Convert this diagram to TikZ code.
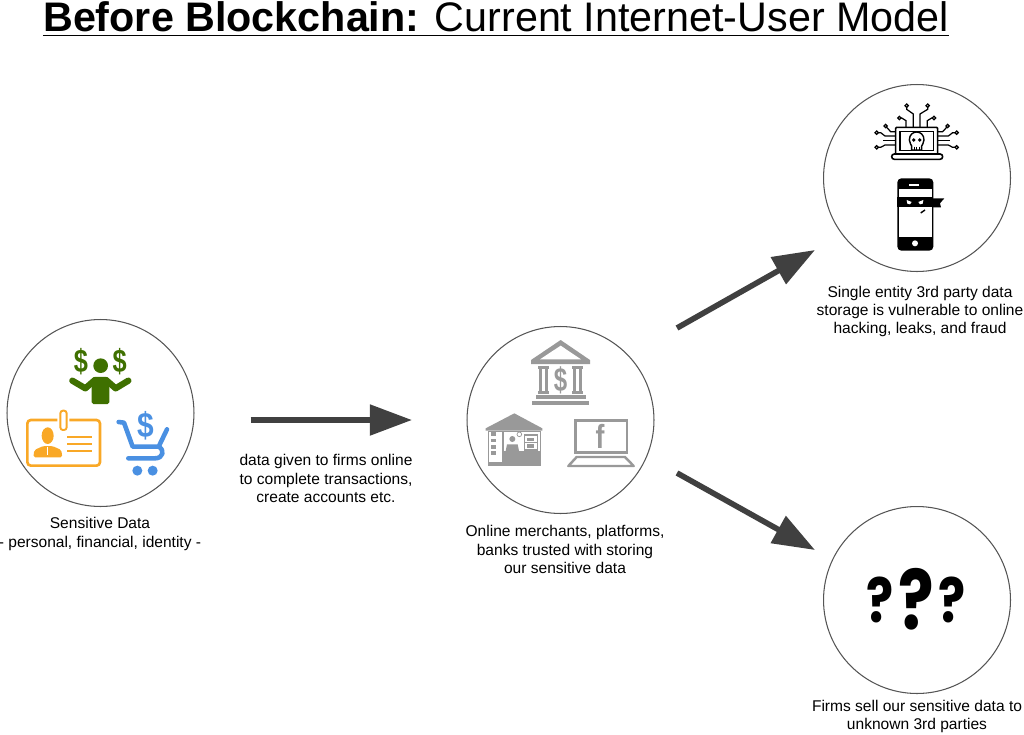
\documentclass[tikz,border=0pt]{standalone}
\usepackage{fontspec}
\setmainfont{Liberation Sans}
\newfontfamily\qfont{Poppins}
\usetikzlibrary{arrows.meta}
\definecolor{arrowgray}{HTML}{404040}
\definecolor{ringgray}{HTML}{555555}
\definecolor{icongray}{HTML}{999999}
\definecolor{mangreen}{HTML}{3F7000}
\definecolor{cardorange}{HTML}{F9A826}
\definecolor{cartblue}{HTML}{4A90E2}
\tikzset{
  ring/.style={circle,draw=ringgray,line width=0.6pt,minimum size=3.74cm,inner sep=0pt},
  caption/.style={align=center,font=\fontsize{8.85}{10.5}\selectfont,inner sep=0pt},
  flow/.style={draw=arrowgray,line width=3.2pt,-{Triangle[length=24pt,width=17pt]}},
  zoomed/.style={x=0.006667cm,y=-0.006667cm},
  question/.style={inner sep=0pt,text=black},
}
\begin{document}
\begin{tikzpicture}[x=0.02cm,y=-0.02cm]
\useasboundingbox (0,0) rectangle (1024,734);
% title
\node[inner sep=0pt,font=\fontsize{23.5}{26}\selectfont] (title) at (496,16.5) {\textbf{Before Blockchain:} Current Internet-User Model};
\draw[line width=1pt] (title.west |- 0,35.5) -- (title.east |- 0,35.5);
% rings
\node[ring] (sensitive) at (100.5,413) {};
\node[ring] (merchants) at (560.5,420) {};
\node[ring] (hacked) at (917,178) {};
\node[ring] (unknown) at (917,600) {};
% captions
\node[caption] (sensitivetext) at (100,534) {Sensitive Data\\- personal, financial, identity -};
\node[caption] (giventext) at (326,478.5) {data given to firms online\\to complete transactions,\\create accounts etc.};
\node[caption] (merchanttext) at (565,549.5) {Online merchants, platforms,\\banks trusted with storing\\our sensitive data};
\node[caption] (hackedtext) at (920,311.5) {Single entity 3rd party data\\storage is vulnerable to online\\hacking, leaks, and fraud};
\node[caption] (unknowntext) at (917,716.5) {Firms sell our sensitive data to\\unknown 3rd parties};
% arrows
\coordinate (hackfrom) at (677,328);
\coordinate (hackto) at (815,250);
\coordinate (sellfrom) at (677,473);
\coordinate (sellto) at (815,550);
\draw[flow,shorten <=32pt,shorten >=31pt] (sensitive.east |- merchants.west) -- (merchants.west);
\draw[flow] (hackfrom) -- (hackto);
\draw[flow] (sellfrom) -- (sellto);
% man with dollars
\begin{scope}[shift={(0,320)},zoomed]
\fill[mangreen] (302,137) circle (22);
\draw[mangreen,line width=3.6pt,line cap=round,line join=round] (217,182) -- (256,205) -- (285,180) -- (318,180) -- (347,205) -- (385,182);
\fill[mangreen,rounded corners=1pt] (275,172) rectangle (328,252);
\node[text=mangreen,inner sep=0pt,font=\bfseries\fontsize{18.5}{18.5}\selectfont] (dollarleft) at (243,125) {\scalebox{0.78}[1]{\$}};
\node[text=mangreen,inner sep=0pt,font=\bfseries\fontsize{18.5}{18.5}\selectfont] (dollarright) at (359,125) {\scalebox{0.78}[1]{\$}};
% id card
\draw[cardorange,line width=1.5pt,rounded corners=2pt] (172,300) -- (82,300) -- (82,437) -- (300,437) -- (300,300) -- (208,300);
\draw[cardorange,line width=1.1pt,rounded corners=1.5pt] (181,272) rectangle (200,330);
\fill[cardorange] (143,347) ellipse (18 and 25);
\fill[cardorange,rounded corners=1pt] (100,412) -- (103,390) -- (130,378) -- (157,378) -- (184,390) -- (187,412) -- cycle;
\draw[white,line width=0.5pt] (143,380) -- (143,405);
\foreach \liney in {350,372,393}
  \draw[cardorange,line width=1.1pt] (202,\liney) -- (275,\liney);
% cart
\draw[cartblue,line width=2.6pt,line cap=round,line join=round] (356,306) -- (372,308) -- (398,380) -- (476,380) -- (501,328);
\draw[cartblue,line width=2.6pt,line cap=round,line join=round] (476,380) .. controls (495,390) and (490,415) .. (465,415) -- (385,415);
\fill[cartblue] (412,452) circle (15);
\fill[cartblue] (458,452) circle (15);
\node[text=cartblue,inner sep=0pt,font=\bfseries\fontsize{20}{20}\selectfont] (dollarcart) at (438,316) {\scalebox{0.85}[1]{\$}};
\end{scope}
% bank, shop, laptop
\begin{scope}[shift={(465,325)},zoomed]
\fill[icongray] (198,105) -- (287,45) -- (375,105) -- (375,117) -- (198,117) -- cycle;
\fill[white] (225,103) -- (287,62) -- (348,103) -- cycle;
\foreach \pillarx in {218,320} {
  \fill[icongray] (\pillarx,124) rectangle ++(35,9);
  \fill[icongray] (\pillarx,197) rectangle ++(35,9);
  \fill[icongray] (\pillarx+3,133) rectangle ++(9,64);
  \fill[icongray] (\pillarx+23,133) rectangle ++(9,64);
}
\node[text=icongray,inner sep=0pt,font=\bfseries\fontsize{19}{19}\selectfont] (dollarbank) at (287,165) {\scalebox{0.72}[1]{\$}};
\fill[icongray] (212,211) rectangle (362,222);
\fill[icongray] (200,228) rectangle (373,240);
% shop
\fill[icongray] (62,310) -- (148,265) -- (232,310) -- (232,317) -- (62,317) -- cycle;
\fill[icongray] (68,317) rectangle (228,422);
\fill[white] (118,320) rectangle (224,378);
\fill[white] (73,320) rectangle (112,412);
\foreach \winy in {322,341,360,379}
  \fill[icongray] (78,\winy) rectangle ++(16,11);
\fill[icongray] (142,342) circle (9);
\fill[icongray] (122,378) -- (126,358) -- (158,358) -- (162,378) -- cycle;
\draw[icongray,line width=0.4pt] (163,328) circle (7);
\draw[icongray,line width=0.9pt] (178,330) rectangle (218,375);
\draw[icongray,line width=0.9pt] (178,352) -- (218,352);
\fill[icongray] (185,338) rectangle (207,347);
\fill[icongray] (185,358) rectangle (207,368);
% laptop
\draw[icongray,line width=1.4pt] (332,287) rectangle (486,383);
\draw[icongray,line width=1.4pt,line join=round] (310,423) -- (335,396) -- (480,396) -- (506,423) -- cycle;
\node[text=icongray,inner sep=0pt,font=\bfseries\fontsize{19}{19}\selectfont] (fbmark) at (405,335) {\scalebox{0.8}[1]{f}};
\end{scope}
% hacked laptop and phone
\begin{scope}[shift={(860,90)},zoomed]
\foreach \tx/\ty/\mx/\my/\nx/\ny/\ex/\ey in {160/112/160/72/140/58/140/47,180/112/180/72/203/58/203/47,138/112/138/92/125/84/118/84,202/112/202/92/215/84/222/84,107/125/92/125/80/112/77/108,233/125/248/125/260/112/263/108,107/138/75/138/62/128/50/128,233/138/265/138/278/128/290/128,107/165/75/165/62/172/50/172,233/165/265/165/278/172/290/172}
{
  \draw[black,line width=0.7pt] (\tx,\ty) -- (\mx,\my) -- (\nx,\ny) -- (\ex,\ey);
  \draw[black,line width=0.7pt,fill=white] (\ex,\ey) circle (5);
}
\draw[black,line width=0.7pt] (107,152) -- (70,152) (233,152) -- (270,152);
\draw[black,line width=0.9pt,rounded corners=0.6pt] (107,190) -- (107,112) -- (233,112) -- (233,190);
\draw[black,line width=0.6pt] (120,125) rectangle (220,182);
\draw[black,line width=0.9pt,rounded corners=1.5pt] (95,192) rectangle (248,208);
\draw[black,line width=0.8pt,fill=white,line join=round] (148,150) .. controls (148,118) and (192,118) .. (192,150) .. controls (192,160) and (185,165) .. (185,168) -- (185,180) -- (155,180) -- (155,168) .. controls (155,165) and (148,160) .. (148,150) -- cycle;
\fill[black] (161,150) circle (5.5);
\fill[black] (179,150) circle (5.5);
\draw[black,line width=0.5pt] (163,170) -- (163,180) (170,170) -- (170,180) (177,170) -- (177,180);
% phone
\fill[black,rounded corners=2.3pt] (112,265) rectangle (220,482);
\fill[white] (118,298) rectangle (215,320);
\fill[white] (118,352) rectangle (215,440);
\fill[black] (218,325) -- (253,325) -- (240,340) -- (243,352) -- (218,352) -- cycle;
\fill[black] (110,322) rectangle (218,352);
\fill[white] (140,330) -- (155,336) -- (150,343) -- (142,341) -- cycle;
\fill[white] (190,330) -- (175,336) -- (180,343) -- (188,341) -- cycle;
\draw[black,line width=0.8pt] (182,369) -- (195,360);
\fill[white] (165,460) circle (9);
\fill[white] (148,283) rectangle (178,287);
\end{scope}
% question marks
\node[question,font=\qfont\bfseries\fontsize{35}{35}\selectfont] (qleft) at (880,600) {\scalebox{0.82}[1]{?}};
\node[question,font=\qfont\bfseries\fontsize{47}{47}\selectfont] (qmid) at (916,599) {\scalebox{0.8}[1]{?}};
\node[question,font=\qfont\bfseries\fontsize{35}{35}\selectfont] (qright) at (952,600) {\scalebox{0.82}[1]{?}};
\end{tikzpicture}
\end{document}
